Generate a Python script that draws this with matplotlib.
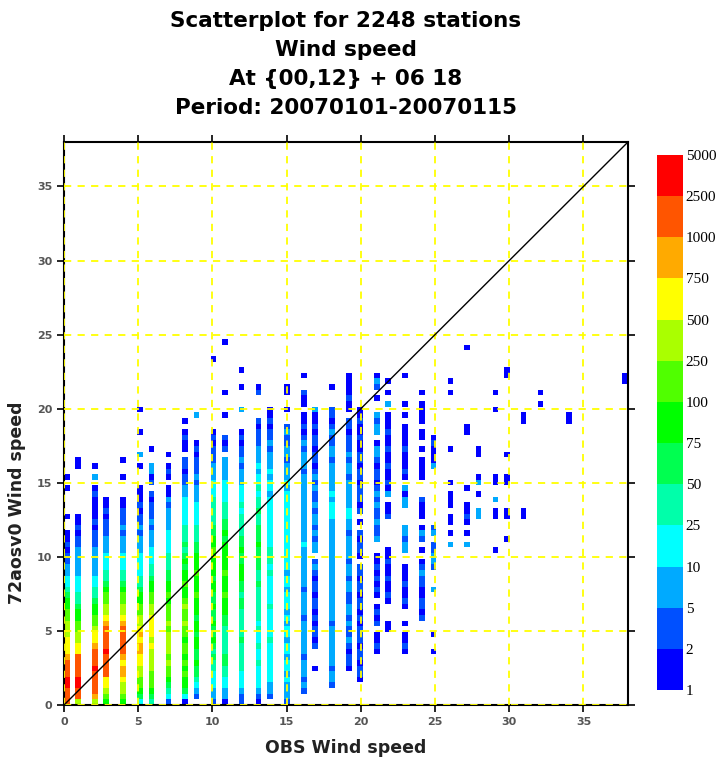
import numpy as np
import matplotlib
matplotlib.use("Agg")
import matplotlib.pyplot as plt
from matplotlib.colors import ListedColormap, BoundaryNorm

# observed wind speed of each column of cells (m/s)
obs_speed = [0.19, 0.95, 2.09, 2.85, 3.99, 5.13, 5.89, 7.03, 8.17, 8.93,
             10.07, 10.83, 11.97, 13.11, 13.87, 15.01, 16.15, 16.91, 18.05, 19.19,
             19.95, 21.09, 21.85, 22.99, 24.13, 24.89, 26.03, 27.17, 27.93, 29.07,
             29.83, 30.97, 32.11, 34.01, 37.81]

# forecast bins (0.38 m/s each, from 0 upwards) for each column, one char per bin:
# '.' empty, '1'..'9','A'..'D' = colour class of the count
fc_classes = [
    "CCCDDCCC BAA A99 988 776 54 433 221211 .. 1. ... 1. 1",
    "9 CCDDCCCC AA 99 8877 655 444 3333 3221211 ....... . 11",
    "9B CCCCDCCC BAA 988 776 554 4333 3322 2121 1 1121 . 3 . 1",
    "78 9AA CCCCDCCCC BA998 876554 443 3322 21211",
    "78 99A BBAB CCCCC BA9 9887 6554 4433 32322 211 ... 1 .. 1",
    "46 7889 9AA BBABA 9988 7765 54444 33323 2212111 ... 1 . 3 ... 1 ... 1",
    "567 88899 99A9A AAA998 87765 54443 33232 2212 . 2133 .. 1",
    "2 4 567 889899 998988 878776 65554 4443 33323 11 . 121 . 1",
    "1 4 67787 878878 898898 77877676 565554 44443 32 2122 . 1121 . 1",
    ". 2 3 4 566766 776776 7778777 877766 55544 44333 23222 121 .... 3",
    "2 3 34 4455 6567667 6676677677 778776 6555554 4433 3222 121 ............ 1",
    "133 445 566555 55667 77877787 77776766 5554444 3333 . 212 . .. 1 ... 1 ........ 1",
    "223 4445 55556555 5566566 7776676 6555545 4443 33232 2121 ... 3 ... 1 .. 1",
    "1234 44454454454555 555655666 6766 65565545 44343 3322212 .... 21",
    ". 2 33 44444445444445444 44545554444 4444434434 333232 21211",
    "23 334344344344343444344344 44444444444434 3332332232 .. 1 .. 11",
    ".. 2 3233323333 3323333233333 334333333333 3332333232 1211 . 112 .. 1",
    "...... 1 ... 2122121221221232 . 33232332322323212212212113",
    "... 23323333 333233333333333 3333333 44434 333332332 232122 ... 1",
    "...... 12212322323322332332 3333233443333323323222122 . 1121111",
    ".... 122122122212122122122 . 12212 . 1 . 2122212212211211211",
    "......... 1211 . 2121 . 1212 1 211 .. 32232232321221233 1 . 3323 ..1.231",
    "............. 11 ... 1211211211 ..... 211 . 3 12112112112111 . 3 . 1 . 1",
    "......... 1211 . 1 .. 12112111 .. 33233 ... 3313 . 1211121111 . 1 . 1 .... 1",
    "............... 21221122321 . 1 . 231 . 1 112 ... 111 1 . 1 . 11 . 1111 . 1",
    "......... 1 .. 1 ....... 3 ... 23322 . 32 .......... 3 11 121",
    "............................ 3.1.11.111.1 ..... 1 ......... 1 . 1",
    "............................ 3.1.1211..1 ......... 11 ............. 1",
    "................................. 33..1.31...11",
    "........................... 1.....11.3..11 ........... 1..1",
    "............................. 1...11....11...1 ............. 11",
    "................................. 11 ............... 11",
    "..................................................... 1.1",
    ".................................................. 11",
    "......................................................... 11",
]

bin_width = 0.38
n_bins = 100
levels = [1, 2, 5, 10, 25, 50, 75, 100, 250, 500, 750, 1000, 2500, 5000]
class_count = {"1": 1, "2": 3, "3": 7, "4": 15, "5": 35, "6": 60, "7": 85,
               "8": 150, "9": 350, "A": 600, "B": 850, "C": 1500, "D": 3500}
colors = ["#0000ff", "#0050ff", "#00aaff", "#00ffff", "#00ffaa", "#00ff50",
          "#00ff00", "#50ff00", "#aaff00", "#ffff00", "#ffaa00", "#ff5500",
          "#ff0000"]

obs, fc, cnt = [], [], []
for x, s in zip(obs_speed, fc_classes):
    for j, ch in enumerate(s.replace(" ", "")):
        if ch != ".":
            obs.append(x)
            fc.append((j + 0.5) * bin_width)
            cnt.append(class_count[ch])

plt.rcParams['font.family'] = ['DejaVu Sans']
fig = plt.figure(figsize=(7.27, 7.58), dpi=100)
ax = fig.add_axes([64 / 727, 53 / 758, 564 / 727, 563 / 758])

cmap = ListedColormap(colors)
norm = BoundaryNorm(levels, cmap.N)
edges = np.linspace(0, n_bins * bin_width, n_bins + 1)
h = ax.hist2d(obs, fc, bins=[edges, edges], weights=cnt, cmap=cmap, norm=norm, cmin=0.5)

ax.axline((0, 0), slope=1, color="black", lw=1, zorder=4)
ax.set_xlim(0, 38)
ax.set_ylim(0, 38)
ticks = np.arange(0, 36, 5)
ax.set_xticks(ticks)
ax.set_yticks(ticks)
ax.grid(True, color="#ffff00", ls=(0, (4, 3.5)), lw=1.3, zorder=3)
ax.set_axisbelow(False)
ax.tick_params(direction="out", length=5, width=1.2, top=True, right=True,
               labelsize=8, labelcolor="#555555")
for lab in ax.get_xticklabels() + ax.get_yticklabels():
    lab.set_fontweight("bold")
for sp in ax.spines.values():
    sp.set_linewidth(1.5)
ax.set_xlabel("OBS Wind speed", fontsize=12.5, fontweight="bold",
              color="#222222", labelpad=9)
ax.set_ylabel("72aosv0 Wind speed", fontsize=12.5, fontweight="bold",
              color="#222222")
ax.yaxis.set_label_coords(-0.068, 0.36)

title_lines = ["Scatterplot for 2248 stations", "Wind speed",
               "At {00,12} + 06 18", "Period: 20070101-20070115"]
for i, t in enumerate(title_lines):
    fig.text(346 / 727, 1 - (21 + 29 * i) / 758, t, ha="center", va="center",
             fontsize=15.5, fontweight="bold")

cax = fig.add_axes([657 / 727, 68 / 758, 26 / 727, 535 / 758])
cb = fig.colorbar(h[3], cax=cax, boundaries=levels, ticks=levels, spacing="uniform")
cb.outline.set_visible(False)
cax.tick_params(length=0, pad=2)
for lab in cax.get_yticklabels():
    lab.set_family("Liberation Serif")
    lab.set_fontsize(11)

fig.savefig("out.png", dpi=100)
